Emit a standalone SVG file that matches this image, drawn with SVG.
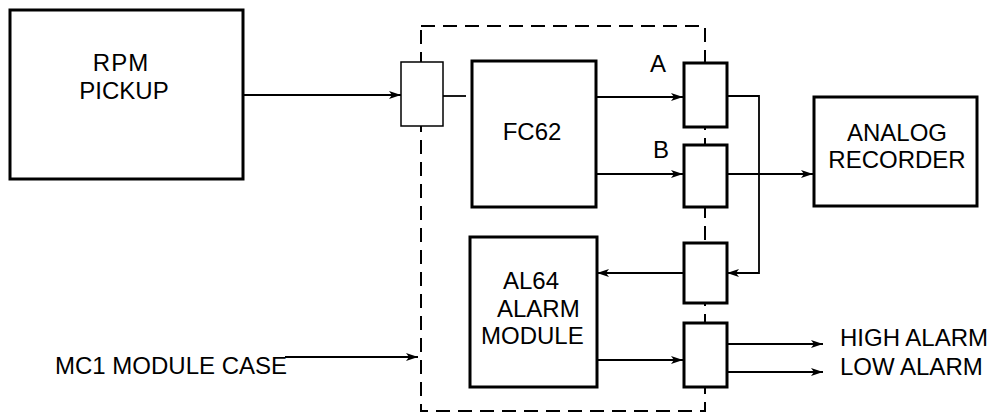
<svg xmlns="http://www.w3.org/2000/svg" width="995" height="414" viewBox="0 0 995 414">
<style>
.box{fill:#fff;stroke:#000;stroke-width:3}
.thin{fill:#fff;stroke:#000;stroke-width:1.5}
.case{fill:none;stroke:#000;stroke-width:2;stroke-dasharray:14 8}
.ln{fill:none;stroke:#000;stroke-width:1.8}
.ar{marker-end:url(#ah)}
text{font-family:"Liberation Sans",Arial,sans-serif;font-size:24px;fill:#000}
.c{text-anchor:middle}
</style>
<defs>
<marker id="ah" viewBox="0 0 12 8" refX="12" refY="4" markerWidth="12" markerHeight="8" markerUnits="userSpaceOnUse" orient="auto">
<path d="M0,0 L12,4 L0,8 L3,4 Z" fill="#000"/>
</marker>
</defs>
<rect class="case" x="421" y="26" width="284" height="385"/>
<g id="connectors">
<line class="ln ar" x1="243" y1="95" x2="401" y2="95"/>
<line class="ln" x1="443" y1="96" x2="466" y2="96"/>
<line class="ln ar" x1="597" y1="97" x2="683" y2="97"/>
<line class="ln ar" x1="597" y1="174" x2="683" y2="174"/>
<polyline class="ln ar" points="727,96 759,96 759,273 727,273"/>
<line class="ln ar" x1="727" y1="174" x2="813" y2="174"/>
<line class="ln ar" x1="683" y1="273" x2="597" y2="273"/>
<line class="ln ar" x1="597" y1="360" x2="683" y2="360"/>
<line class="ln ar" x1="727" y1="344" x2="823" y2="344"/>
<line class="ln ar" x1="727" y1="372" x2="823" y2="372"/>
<line class="ln ar" x1="285" y1="357" x2="418" y2="357"/>
</g>
<g id="rpm">
<rect class="box" x="10" y="10" width="233" height="169"/>
<text class="c" x="121" y="71" letter-spacing="1">RPM</text>
<text class="c" x="124" y="99">PICKUP</text>
</g>
<g id="input">
<rect class="thin" x="401" y="62" width="42" height="64"/>
</g>
<g id="fc62">
<rect class="box" x="472" y="61" width="124" height="146"/>
<text class="c" x="532" y="140">FC62</text>
</g>
<g id="boxA">
<rect class="box" x="684" y="63" width="43" height="64"/>
<text class="c" x="658" y="72">A</text>
</g>
<g id="boxB">
<rect class="box" x="684" y="145" width="43" height="62"/>
<text class="c" x="661" y="158">B</text>
</g>
<g id="box3">
<rect class="box" x="684" y="243" width="43" height="60"/>
</g>
<g id="box4">
<rect class="box" x="684" y="323" width="43" height="64"/>
</g>
<g id="al64">
<rect class="box" x="470" y="237" width="127" height="150"/>
<text x="503" y="289">AL64</text>
<text x="497" y="317">ALARM</text>
<text x="481" y="344">MODULE</text>
</g>
<g id="recorder">
<rect class="box" x="814" y="97" width="163" height="109"/>
<text class="c" x="897" y="141">ANALOG</text>
<text class="c" x="897" y="168">RECORDER</text>
</g>
<g id="labels">
<text x="840" y="346">HIGH ALARM</text>
<text x="840" y="375">LOW ALARM</text>
<text x="55" y="374">MC1 MODULE CASE</text>
</g>
</svg>
